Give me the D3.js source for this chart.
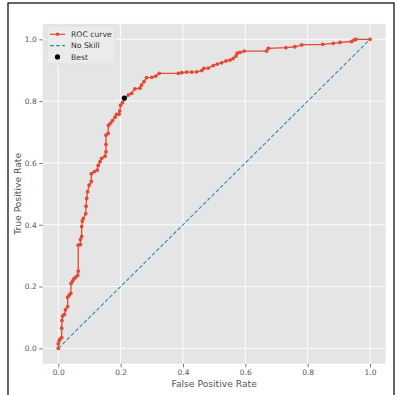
<!DOCTYPE html>
<html>
<head>
<meta charset="utf-8">
<script src="https://cdn.jsdelivr.net/npm/d3@7"></script>
<style>
  body { margin: 0; background: #fff; }
  text { font-family: "DejaVu Sans", sans-serif; }
</style>
</head>
<body>
<svg id="chart" width="398" height="395"></svg>
<script>
// roc curve points
var fpr = [0, 0, 0.003, 0.005, 0.011, 0.011, 0.012, 0.014, 0.02, 0.023, 0.03, 0.03, 0.035, 0.04, 0.041, 0.046,
  0.05, 0.055, 0.062, 0.064, 0.064, 0.071, 0.071, 0.075, 0.075, 0.077, 0.08, 0.088, 0.089, 0.091, 0.094, 0.099,
  0.106, 0.106, 0.116, 0.125, 0.128, 0.134, 0.139, 0.15, 0.153, 0.153, 0.153, 0.16, 0.161, 0.168, 0.174, 0.182,
  0.187, 0.195, 0.197, 0.2, 0.206, 0.212, 0.225, 0.235, 0.246, 0.262, 0.267, 0.275, 0.283, 0.3, 0.313, 0.324,
  0.385, 0.396, 0.412, 0.428, 0.444, 0.46, 0.467, 0.481, 0.497, 0.51, 0.524, 0.538, 0.551, 0.561, 0.57, 0.574,
  0.583, 0.596, 0.668, 0.674, 0.73, 0.759, 0.781, 0.848, 0.882, 0.904, 0.941, 0.949, 0.955, 1];
var tpr = [0, 0.015, 0.025, 0.03, 0.035, 0.065, 0.09, 0.105, 0.11, 0.125, 0.135, 0.165, 0.172, 0.178, 0.21, 0.218,
  0.225, 0.23, 0.236, 0.25, 0.334, 0.336, 0.352, 0.362, 0.394, 0.412, 0.42, 0.436, 0.46, 0.485, 0.507, 0.528,
  0.54, 0.565, 0.572, 0.577, 0.592, 0.604, 0.615, 0.622, 0.636, 0.66, 0.69, 0.696, 0.722, 0.729, 0.737, 0.748,
  0.757, 0.758, 0.768, 0.787, 0.795, 0.808, 0.82, 0.825, 0.84, 0.842, 0.852, 0.863, 0.876, 0.877, 0.881, 0.89,
  0.89, 0.892, 0.894, 0.894, 0.895, 0.899, 0.906, 0.907, 0.915, 0.92, 0.924, 0.93, 0.933, 0.938, 0.946, 0.955,
  0.958, 0.962, 0.962, 0.971, 0.973, 0.976, 0.982, 0.984, 0.987, 0.99, 0.993, 0.998, 1, 1];
var noSkill = [0, 1];
var best = {fpr: 0.212, tpr: 0.81};
var ticks = [0, 0.2, 0.4, 0.6, 0.8, 1.0];
var legendItems = ["ROC curve", "No Skill", "Best"];

var svg = d3.select("#chart");

// frame round the figure
svg.append("rect").attr("x", 8).attr("y", 3).attr("width", 386).attr("height", 400)
  .attr("fill", "none").attr("stroke", "#000").attr("stroke-width", 1.2);

var xScale = d3.scaleLinear().domain([-0.05, 1.05]).range([42.7, 385.6]);
var yScale = d3.scaleLinear().domain([-0.05, 1.05]).range([363.8, 23.9]);

svg.append("rect")
  .attr("x", xScale(-0.05)).attr("y", yScale(1.05))
  .attr("width", xScale(1.05) - xScale(-0.05))
  .attr("height", yScale(-0.05) - yScale(1.05))
  .attr("fill", "#E5E5E5");

// grid
svg.append("g").selectAll("line.gx").data(ticks).enter().append("line")
  .attr("x1", d => xScale(d)).attr("x2", d => xScale(d))
  .attr("y1", yScale(1.05)).attr("y2", yScale(-0.05))
  .attr("stroke", "#fff").attr("stroke-width", 0.9);
svg.append("g").selectAll("line.gy").data(ticks).enter().append("line")
  .attr("y1", d => yScale(d)).attr("y2", d => yScale(d))
  .attr("x1", xScale(-0.05)).attr("x2", xScale(1.05))
  .attr("stroke", "#fff").attr("stroke-width", 0.9);

var xAxis = svg.append("g").attr("transform", "translate(0," + yScale(-0.05) + ")")
  .call(d3.axisBottom(xScale).tickValues(ticks).tickFormat(d3.format(".1f")).tickSize(3.5).tickPadding(2.3));
var yAxis = svg.append("g").attr("transform", "translate(" + xScale(-0.05) + ",0)")
  .call(d3.axisLeft(yScale).tickValues(ticks).tickFormat(d3.format(".1f")).tickSize(3.5).tickPadding(2.5));
[xAxis, yAxis].forEach(function(a) {
  a.select(".domain").remove();
  a.selectAll(".tick line").attr("stroke", "#555").attr("stroke-width", 0.8);
  a.selectAll(".tick text").attr("fill", "#555").style("font-size", "7.5px");
});

svg.append("text").attr("x", (xScale(-0.05) + xScale(1.05)) / 2).attr("y", 386.5)
  .attr("text-anchor", "middle").attr("fill", "#555").style("font-size", "9.2px")
  .text("False Positive Rate");
svg.append("text")
  .attr("transform", "translate(20.6," + (yScale(-0.05) + yScale(1.05)) / 2 + ") rotate(-90)")
  .attr("text-anchor", "middle").attr("fill", "#555").style("font-size", "9.2px")
  .text("True Positive Rate");

// no skill line
svg.append("line")
  .attr("x1", xScale(noSkill[0])).attr("y1", yScale(noSkill[0]))
  .attr("x2", xScale(noSkill[1])).attr("y2", yScale(noSkill[1]))
  .attr("stroke", "#348ABD").attr("stroke-width", 1.1).attr("stroke-dasharray", "4,2");

var line = d3.line().x(d => xScale(d[0])).y(d => yScale(d[1]));
var pts = fpr.map((f, i) => [f, tpr[i]]);
svg.append("path").datum(pts).attr("d", line)
  .attr("fill", "none").attr("stroke", "#E24A33").attr("stroke-width", 1.3);
svg.append("g").selectAll("circle").data(pts).enter().append("circle")
  .attr("cx", d => xScale(d[0])).attr("cy", d => yScale(d[1])).attr("r", 1.9)
  .attr("fill", "#E24A33");

svg.append("circle").attr("cx", xScale(best.fpr)).attr("cy", yScale(best.tpr)).attr("r", 2.6)
  .attr("fill", "#000");

// legend
var lg = svg.append("g").attr("transform", "translate(47,26)");
lg.append("rect").attr("width", 68).attr("height", 38).attr("rx", 2)
  .attr("fill", "#EBEBEB").attr("stroke", "#dcdcdc").attr("stroke-width", 0.8);
legendItems.forEach(function(name, i) {
  var y = 8.3 + i * 11.3;
  if (i === 0) {
    lg.append("line").attr("x1", 3).attr("x2", 18).attr("y1", y).attr("y2", y)
      .attr("stroke", "#E24A33").attr("stroke-width", 1.2);
    lg.append("circle").attr("cx", 10.5).attr("cy", y).attr("r", 1.8).attr("fill", "#E24A33");
  } else if (i === 1) {
    lg.append("line").attr("x1", 3).attr("x2", 18).attr("y1", y).attr("y2", y)
      .attr("stroke", "#348ABD").attr("stroke-width", 1.1).attr("stroke-dasharray", "4,2");
  } else {
    lg.append("circle").attr("cx", 10.5).attr("cy", y).attr("r", 2.6).attr("fill", "#000");
  }
  lg.append("text").attr("x", 24).attr("y", y + 2.8).attr("fill", "#333")
    .style("font-size", "7.7px").text(name);
});
</script>
</body>
</html>
